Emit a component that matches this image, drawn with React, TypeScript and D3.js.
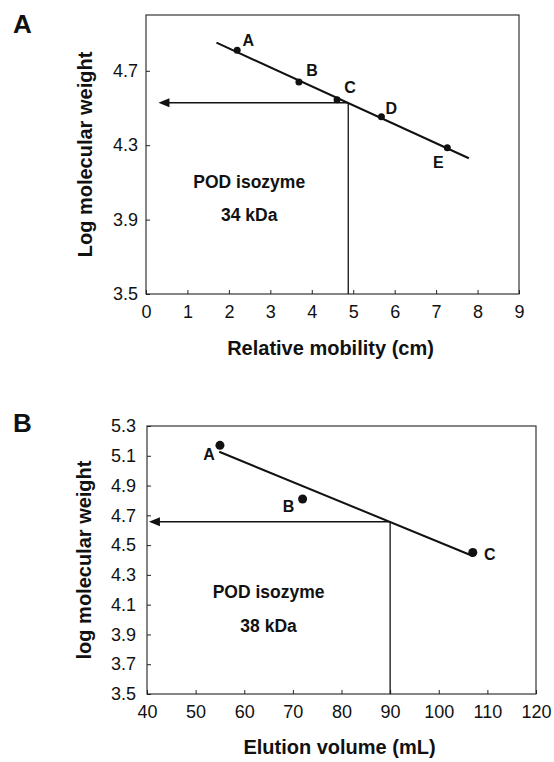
import { useEffect, useRef } from "react";
import * as d3 from "d3";

// Panel A: SDS-PAGE calibration
const markersA = ["A", "B", "C", "D", "E"];
const mobilityA = [2.2, 3.69, 4.61, 5.68, 7.27];
const logMwA = [4.81, 4.64, 4.545, 4.453, 4.286];
const fitXA = [1.7, 7.79];
const fitYA = [4.851, 4.23];
const readoutA = [4.88, 4.528];
const arrowTipA = 0.3;
const xTicksA = [0, 1, 2, 3, 4, 5, 6, 7, 8, 9];
const yTicksA = [3.5, 3.9, 4.3, 4.7];

// Panel B: gel filtration calibration
const markersB = ["A", "B", "C"];
const elutionB = [55, 72, 107];
const logMwB = [5.17, 4.81, 4.45];
const fitXB = [54.85, 107];
const fitYB = [5.127, 4.427];
const readoutB = [90, 4.657];
const arrowTipB = 40.4;
const xTicksB = [40, 50, 60, 70, 80, 90, 100, 110, 120];
const yTicksB = [3.5, 3.7, 3.9, 4.1, 4.3, 4.5, 4.7, 4.9, 5.1, 5.3];

const FONT = "'Liberation Sans', Arial, Helvetica, sans-serif";

function drawPanel(svg, p) {
  const g = svg.append("g");
  const x = d3.scaleLinear().domain(p.xDomain).range([p.left, p.right]);
  const y = d3.scaleLinear().domain(p.yDomain).range([p.bottom, p.top]);

  // frame
  g.append("rect")
    .attr("x", p.left).attr("y", p.top)
    .attr("width", p.right - p.left).attr("height", p.bottom - p.top)
    .attr("fill", "none").attr("stroke", "#222").attr("stroke-width", 1.1);

  const xAxis = g.append("g")
    .attr("transform", `translate(0,${p.bottom})`)
    .call(d3.axisBottom(x).tickValues(p.xTicks).tickSize(-4).tickPadding(11).tickFormat(d3.format("d")));
  xAxis.select(".domain").remove();
  xAxis.selectAll("line").attr("stroke", "#222");
  xAxis.selectAll("text").attr("font-family", FONT).attr("font-size", 18).attr("fill", "#111");

  const yAxis = g.append("g")
    .attr("transform", `translate(${p.left},0)`)
    .call(d3.axisLeft(y).tickValues(p.yTicks).tickSize(-4).tickPadding(p.yPad).tickFormat(d3.format(".1f")));
  yAxis.select(".domain").remove();
  yAxis.selectAll("line").attr("stroke", "#222");
  yAxis.selectAll("text").attr("font-family", FONT).attr("font-size", 18).attr("fill", "#111");

  // fitted line
  const line = d3.line().x((d) => x(d[0])).y((d) => y(d[1]));
  g.append("path")
    .datum(p.fitX.map((v, i) => [v, p.fitY[i]]))
    .attr("d", line)
    .attr("fill", "none").attr("stroke", "#111").attr("stroke-width", 2);

  // read-out lines and arrow
  const rx = x(p.readout[0]);
  const ry = y(p.readout[1]);
  const tip = x(p.arrowTip);
  g.append("line")
    .attr("x1", rx).attr("y1", ry).attr("x2", rx).attr("y2", p.bottom)
    .attr("stroke", "#111").attr("stroke-width", 1.3);
  g.append("line")
    .attr("x1", rx).attr("y1", ry).attr("x2", tip + 8).attr("y2", ry)
    .attr("stroke", "#111").attr("stroke-width", 1.6);
  g.append("path")
    .attr("d", `M${tip},${ry} L${tip + 11},${ry - 4.5} L${tip + 11},${ry + 4.5} Z`)
    .attr("fill", "#111");

  // points
  g.selectAll("circle.pt")
    .data(p.xs)
    .enter()
    .append("circle")
    .attr("class", "pt")
    .attr("cx", (d) => x(d))
    .attr("cy", (d, i) => y(p.ys[i]))
    .attr("r", p.r)
    .attr("fill", "#111");

  g.selectAll("text.mk")
    .data(p.markers)
    .enter()
    .append("text")
    .attr("class", "mk")
    .attr("x", (d, i) => x(p.xs[i]) + p.labelOff[i][0])
    .attr("y", (d, i) => y(p.ys[i]) + p.labelOff[i][1])
    .attr("dy", "0.36em")
    .attr("text-anchor", "middle")
    .attr("font-family", FONT).attr("font-weight", "bold").attr("font-size", 16)
    .attr("fill", "#111")
    .text((d) => d);

  // annotation
  p.note.forEach((t, i) => {
    g.append("text")
      .attr("x", x(p.noteX))
      .attr("y", y(p.noteY[i]))
      .attr("dy", "0.36em")
      .attr("text-anchor", "middle")
      .attr("font-family", FONT).attr("font-weight", "bold").attr("font-size", 17.5)
      .attr("fill", "#111")
      .text(t);
  });

  // axis titles
  g.append("text")
    .attr("x", (p.left + p.right) / 2 - 2)
    .attr("y", p.xTitleY)
    .attr("text-anchor", "middle")
    .attr("font-family", FONT).attr("font-weight", "bold").attr("font-size", 20)
    .attr("fill", "#111")
    .text(p.xTitle);
  g.append("text")
    .attr("transform", `translate(${p.yTitleX},${(p.top + p.bottom) / 2}) rotate(-90)`)
    .attr("text-anchor", "middle")
    .attr("font-family", FONT).attr("font-weight", "bold").attr("font-size", 20)
    .attr("fill", "#111")
    .text(p.yTitle);

  // panel letter
  g.append("text")
    .attr("x", 13).attr("y", p.letterY)
    .attr("font-family", FONT).attr("font-weight", "bold").attr("font-size", 26)
    .attr("fill", "#111")
    .text(p.letter);
}

export default function App() {
  const ref = useRef(null);

  useEffect(() => {
    const svg = d3.select(ref.current);
    svg.selectAll("*").remove();

    drawPanel(svg, {
      letter: "A", letterY: 33,
      left: 146, right: 519, top: 15, bottom: 294,
      xDomain: [0, 9], yDomain: [3.5, 5.0],
      xTicks: xTicksA, yTicks: yTicksA, yPad: 8,
      xs: mobilityA, ys: logMwA, markers: markersA, r: 3.5,
      labelOff: [[11, -10], [13, -12], [13, -12], [10, -9], [-9, 14]],
      fitX: fitXA, fitY: fitYA,
      readout: readoutA, arrowTip: arrowTipA,
      note: ["POD isozyme", "34 kDa"], noteX: 2.49, noteY: [4.104, 3.925],
      xTitle: "Relative mobility (cm)", xTitleY: 355,
      yTitle: "Log molecular weight", yTitleX: 92,
    });

    drawPanel(svg, {
      letter: "B", letterY: 432,
      left: 147, right: 536, top: 426, bottom: 694,
      xDomain: [40, 120], yDomain: [3.5, 5.3],
      xTicks: xTicksB, yTicks: yTicksB, yPad: 11,
      xs: elutionB, ys: logMwB, markers: markersB, r: 4.5,
      labelOff: [[-11, 9], [-14, 7], [17, 2]],
      fitX: fitXB, fitY: fitYB,
      readout: readoutB, arrowTip: arrowTipB,
      note: ["POD isozyme", "38 kDa"], noteX: 65, noteY: [4.187, 3.957],
      xTitle: "Elution volume (mL)", xTitleY: 754,
      yTitle: "log molecular weight", yTitleX: 91,
    });
  }, []);

  return (
    <svg
      ref={ref}
      width={554}
      height={762}
      style={{ position: "absolute", left: 0, top: 0, background: "#fff" }}
    />
  );
}
